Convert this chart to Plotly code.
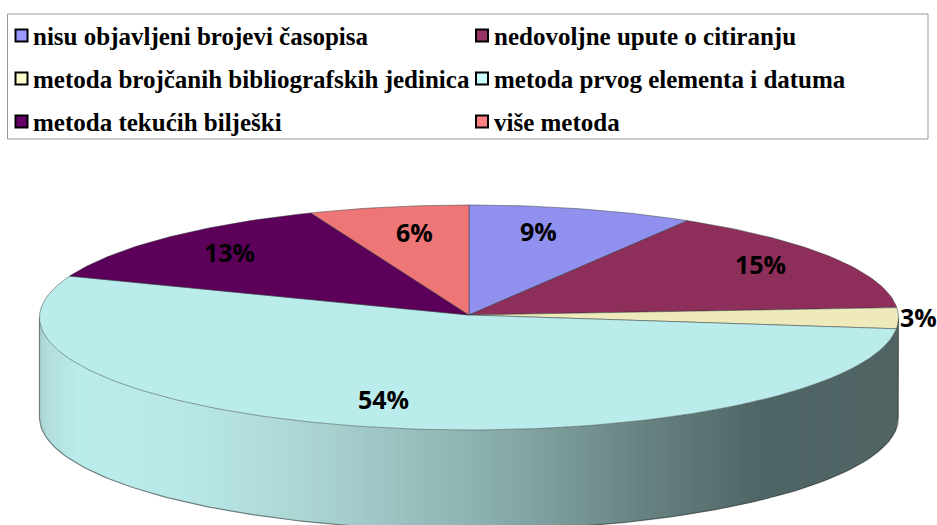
import numpy as np
import plotly.graph_objects as go

categories = ["nisu objavljeni brojevi časopisa", "nedovoljne upute o citiranju",
              "metoda brojčanih bibliografskih jedinica", "metoda prvog elementa i datuma",
              "metoda tekućih bilješki", "više metoda"]
values = [8.5, 15.1, 3.0, 54.4, 13.0, 6.0]
pct_labels = ["9%", "15%", "3%", "54%", "13%", "6%"]
top_colors = ["#9090EE", "#8E2E5A", "#EEEABB", "#BBECEC", "#5C005A", "#EE7676"]
swatch_colors = ["#9999FF", "#993366", "#FFFFCC", "#CCFFFF", "#660066", "#FF8080"]

W, H = 937, 525
cx, cy, rx, ry, depth = 469, 317.5, 429.5, 112.5, 100
apex_y = 315
EDGE = "rgba(45,55,55,0.6)"

def proj(deg):
    a = np.radians(deg)
    return cx + rx * np.sin(a), cy - ry * np.cos(a)

fig = go.Figure()

# side wall: shaded strips following the ellipse, lit from the left
stops_x = [40, 48, 80, 200, 300, 470, 640, 760, 898]
stops_c = [(168, 208, 208), (178, 222, 222), (187, 236, 236), (184, 230, 230), (172, 214, 212),
           (143, 180, 178), (104, 132, 130), (80, 102, 102), (80, 100, 100)]
shapes = []
edges = np.arange(39.5, 899.5, 3.0)
for i in range(len(edges) - 1):
    x0, x1 = edges[i], min(edges[i + 1] + 1, cx + rx)
    xs = np.linspace(x0, x1, 3)
    t = np.sqrt(np.clip(1 - ((xs - cx) / rx) ** 2, 0, 1))
    yt = cy + ry * t
    yb = yt + depth
    path = "M " + " L ".join(f"{a:.2f} {b:.2f}" for a, b in zip(xs, yt)) + " L " + \
           " L ".join(f"{a:.2f} {b:.2f}" for a, b in zip(xs[::-1], yb[::-1])) + " Z"
    mid = (x0 + x1) / 2
    rgb = [np.interp(mid, stops_x, [c[k] for c in stops_c]) for k in range(3)]
    shapes.append(dict(type="path", path=path, fillcolor=f"rgb({rgb[0]:.0f},{rgb[1]:.0f},{rgb[2]:.0f})",
                       line=dict(width=0), layer="below"))

# wall outline
th = np.linspace(90, 270, 181)
ox, oy = proj(th)
fig.add_trace(go.Scatter(x=np.r_[ox[0], ox, ox[-1]], y=np.r_[cy, oy + depth, cy], mode="lines",
                         line=dict(color=EDGE, width=1.2), hoverinfo="skip", showlegend=False))

# top face slices, clockwise from twelve o'clock
start = 0.0
for v, col, name in zip(values, top_colors, categories):
    end = start + v * 3.6
    th = np.linspace(start, end, max(int(v * 3.6), 2) + 1)
    ex, ey = proj(th)
    fig.add_trace(go.Scatter(x=np.r_[cx, ex, cx], y=np.r_[apex_y, ey, apex_y], mode="lines", fill="toself",
                             fillcolor=col, line=dict(color=EDGE, width=0.8),
                             name=name, hoverinfo="name", showlegend=False))
    start = end

annotations = []
def label(x, y, text, font, size, anchor="center"):
    annotations.append(dict(x=x, y=y, text=text, showarrow=False, xanchor=anchor, yanchor="middle",
                            font=dict(family=font, size=size, color="black")))

# value labels
for (x, y), t in zip([(538, 231), (760, 264), (918, 317), (383, 399), (229, 252), (414, 232)], pct_labels):
    label(x, y, f"<b>{t}</b>", "Open Sans", 25)

# legend box, two columns by three rows
shapes.append(dict(type="rect", x0=7.5, x1=928, y0=14, y1=139, line=dict(color="#999999", width=1),
                   fillcolor="white", layer="below"))
sx, sy, sc = [], [], []
for i, (name, sw) in enumerate(zip(categories, swatch_colors)):
    col, row = i % 2, i // 2
    base = 21.5 if col == 0 else 482
    y = 35.5 + row * 43
    sx.append(base); sy.append(y); sc.append(sw)
    label(base + 9.5, y + 1, f"<b>{name}</b>", "Liberation Serif", 25, "left")
fig.add_trace(go.Scatter(x=sx, y=sy, mode="markers", hoverinfo="skip", showlegend=False,
                         marker=dict(symbol="square", size=12, color=sc, line=dict(color="black", width=2))))

fig.update_layout(width=W, height=H, margin=dict(l=0, r=0, t=0, b=0), paper_bgcolor="white",
                  plot_bgcolor="white", shapes=shapes, annotations=annotations, showlegend=False,
                  xaxis=dict(range=[0, W], visible=False, fixedrange=True),
                  yaxis=dict(range=[H, 0], visible=False, fixedrange=True))
fig.write_html("out.html", config=dict(displayModeBar=False),
               post_script="document.body.style.margin='0';document.body.style.overflow='hidden';")
